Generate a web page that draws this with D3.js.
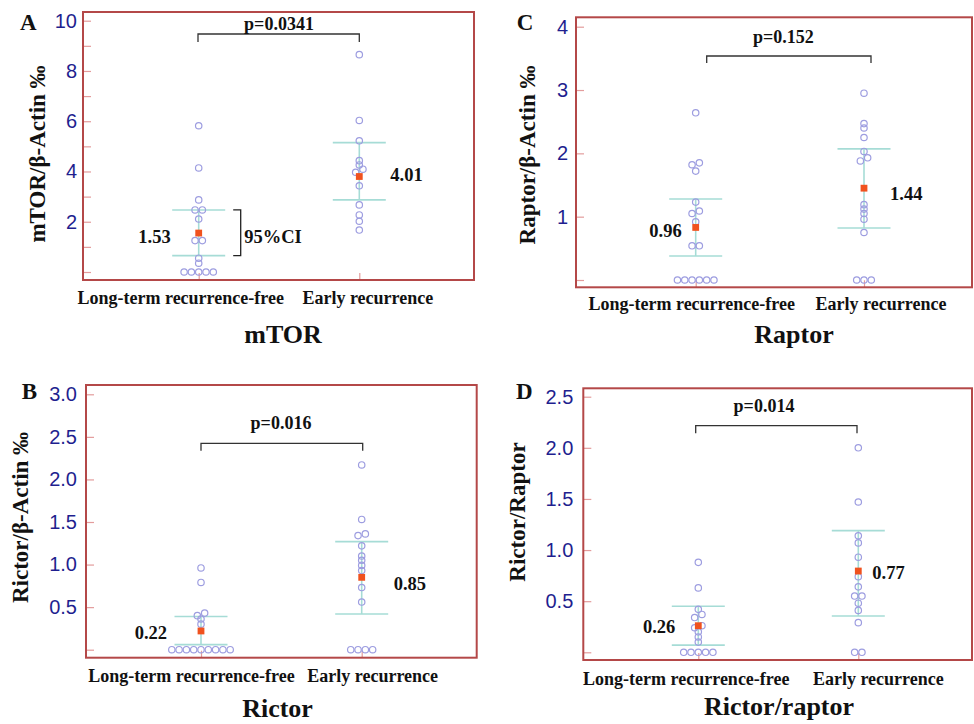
<!DOCTYPE html>
<html>
<head>
<meta charset="utf-8">
<script src="https://cdn.jsdelivr.net/npm/d3@7"></script>
<style>
  body { margin: 0; background: #fff; }
  svg { display: block; }
  .serif { font-family: "Liberation Serif", "Times New Roman", serif; font-weight: bold; fill: #111; }
</style>
</head>
<body>
<svg id="fig" width="974" height="724"></svg>
<script>
// ---- data ----
const groups = ["Long-term recurrence-free", "Early recurrence"];

// A  mTOR
const mtorFree  = [5.82, 4.14, 2.87, 2.47, 2.47, 2.11, 1.25, 1.25, 0.55, 0.35, 0, 0, 0, 0, 0];
const mtorEarly = [8.65, 6.03, 5.22, 4.43, 4.26, 4.09, 3.97, 3.43, 2.67, 2.27, 2.02, 1.67];
const mtorMean = [1.55, 3.80];
const mtorMeanText = ["1.53", "4.01"];
const mtorCI = [[0.65, 2.47], [2.87, 5.15]];
const mtorTicks = [0, 1, 2, 3, 4, 5, 6, 7, 8, 9, 10];
const mtorTickLabels = ["", "", "2", "", "4", "", "6", "", "8", "", "10"];

// B  Rictor
const rictorFree  = [0.96, 0.79, 0.43, 0.40, 0.36, 0.30, 0, 0, 0, 0, 0, 0, 0, 0, 0];
const rictorEarly = [2.17, 1.53, 1.36, 1.34, 1.22, 1.10, 1.05, 0.99, 0.93, 0.73, 0.56, 0, 0, 0, 0];
const rictorMean = [0.22, 0.85];
const rictorMeanText = ["0.22", "0.85"];
const rictorCI = [[0.06, 0.39], [0.42, 1.27]];
const rictorTicks = [0, 0.5, 1, 1.5, 2, 2.5, 3];
const rictorTickLabels = ["", "0.5", "1.0", "1.5", "2.0", "2.5", "3.0"];

// C  Raptor
const raptorFree  = [2.64, 1.85, 1.82, 1.72, 1.23, 1.09, 1.05, 0.92, 0.54, 0.54, 0, 0, 0, 0, 0, 0];
const raptorEarly = [2.95, 2.47, 2.40, 2.25, 2.03, 1.93, 1.88, 1.19, 1.12, 1.05, 0.96, 0.75, 0, 0, 0];
const raptorMean = [0.83, 1.45];
const raptorMeanText = ["0.96", "1.44"];
const raptorCI = [[0.38, 1.28], [0.82, 2.07]];
const raptorTicks = [0, 1, 2, 3, 4];
const raptorTickLabels = ["", "1", "2", "3", "4"];

// D  Rictor/Raptor
const ratioFree  = [0.88, 0.63, 0.42, 0.37, 0.34, 0.26, 0.24, 0.20, 0.15, 0.10, 0, 0, 0, 0, 0];
const ratioEarly = [2.00, 1.47, 1.14, 1.07, 0.93, 0.74, 0.64, 0.55, 0.55, 0.48, 0.41, 0.29, 0, 0];
const ratioMean = [0.26, 0.795];
const ratioMeanText = ["0.26", "0.77"];
const ratioCI = [[0.07, 0.45], [0.355, 1.19]];
const ratioTicks = [0, 0.5, 1, 1.5, 2, 2.5];
const ratioTickLabels = ["", "0.5", "1.0", "1.5", "2.0", "2.5"];

const pValues = ["p=0.0341", "p=0.016", "p=0.152", "p=0.014"];

// ---- panel layout ----
const panels = [
  { letter: "A", free: mtorFree, early: mtorEarly, mean: mtorMean, meanText: mtorMeanText, ci: mtorCI,
    ticks: mtorTicks, tickLabels: mtorTickLabels, p: pValues[0], title: "mTOR", yTitle: "mTOR/β-Actin ‰",
    frame: [83, 474, 12, 280], yRange: [272, 20.7], gx: [198.7, 359.3], tickPad: 6,
    letterPos: [20, 30], bracket: { x: [198, 359.3], y: 34, drop: 8 }, pPos: [279, 30],
    cat: { dx: [-18, 8.5], y: 304 }, titlePos: [283, 343], yTitlePos: [45, 154],
    meanLab: { dx: [-28, 31], dy: [3.7, -1.7] }, ciNote: true },
  { letter: "C", free: raptorFree, early: raptorEarly, mean: raptorMean, meanText: raptorMeanText, ci: raptorCI,
    ticks: raptorTicks, tickLabels: raptorTickLabels, p: pValues[2], title: "Raptor", yTitle: "Raptor/β-Actin ‰",
    frame: [576, 972, 17.3, 287.3], yRange: [280, 26.7], gx: [695.7, 864], tickPad: 8,
    letterPos: [516.7, 30], bracket: { x: [706.7, 871], y: 56, drop: 7 }, pPos: [783.3, 42.7],
    cat: { dx: [-4, 17], y: 310 }, titlePos: [794, 343], yTitlePos: [535, 155],
    meanLab: { dx: [-14, 26], dy: [2.7, 5] } },
  { letter: "B", free: rictorFree, early: rictorEarly, mean: rictorMean, meanText: rictorMeanText, ci: rictorCI,
    ticks: rictorTicks, tickLabels: rictorTickLabels, p: pValues[1], title: "Rictor", yTitle: "Rictor/β-Actin ‰",
    frame: [86, 476.7, 385, 657.7], yRange: [649.7, 394.3], gx: [201, 361.7], tickPad: 9,
    letterPos: [21.7, 399.3], bracket: { x: [201, 362.7], y: 443.3, drop: 7.4 }, pPos: [281, 429.3],
    cat: { dx: [-9.5, 11], y: 681.7 }, titlePos: [277.5, 717], yTitlePos: [28.3, 517.5],
    meanLab: { dx: [-34, 32], dy: [1.7, 6] } },
  { letter: "D", free: ratioFree, early: ratioEarly, mean: ratioMean, meanText: ratioMeanText, ci: ratioCI,
    ticks: ratioTicks, tickLabels: ratioTickLabels, p: pValues[3], title: "Rictor/raptor", yTitle: "Rictor/Raptor",
    frame: [583.3, 972, 388.3, 660], yRange: [652.3, 396.7], gx: [698.3, 858.3], tickPad: 10,
    letterPos: [516, 399.3], bracket: { x: [695.7, 857], y: 425.7, drop: 7.6 }, pPos: [764, 411.7],
    cat: { dx: [-12, 20], y: 685 }, titlePos: [779, 715], yTitlePos: [525, 512],
    meanLab: { dx: [-23, 14], dy: [1, 2] } }
];

const STEP = 7.3;          // horizontal spacing of dots
const CAP = 26.5;          // half width of CI caps

// simple dot-plot layout: near-equal values share a row, others dodge sideways
function swarm(values, y) {
  const pts = values.map(v => ({ v: v, py: y(v) })).sort((a, b) => b.v - a.v);
  const rows = [];
  pts.forEach(p => {
    const r = rows[rows.length - 1];
    if (r && Math.abs(p.py - r[0].py) <= 3.5) r.push(p); else rows.push([p]);
  });
  const placed = [];
  rows.forEach(r => {
    if (r.length > 1) {
      r.sort((a, b) => a.v - b.v);
      r.forEach((p, i) => { p.dx = (i - (r.length - 1) / 2) * STEP; placed.push(p); });
    } else {
      const p = r[0];
      for (const k of [0, 1, -1, 2, -2, 3, -3]) {
        const dx = k * STEP;
        if (!placed.some(q => Math.hypot(q.dx - dx, q.py - p.py) < 4)) { p.dx = dx; break; }
      }
      placed.push(p);
    }
  });
  return placed;
}

const svg = d3.select("#fig");

panels.forEach(P => {
  const g = svg.append("g");
  const [x0, x1, y0, y1] = P.frame;
  const y = d3.scaleLinear().domain([0, d3.max(P.ticks)]).range(P.yRange);
  const x = d3.scalePoint().domain(groups).range(P.gx);

  // y axis: ticks point inward, labels outside
  const ya = g.append("g").attr("transform", `translate(${x0},0)`)
    .call(d3.axisLeft(y).tickValues(P.ticks).tickSize(-8).tickPadding(P.tickPad)
      .tickFormat((d, i) => P.tickLabels[i]));
  ya.select(".domain").remove();
  ya.selectAll(".tick line").attr("stroke", "#e39c9c").attr("stroke-width", 1.2);
  ya.selectAll(".tick text").attr("fill", "#1f1f8f")
    .style("font-family", '"Liberation Sans", Arial, sans-serif').style("font-size", "20px");

  // x axis ticks (no labels)
  const xa = g.append("g").attr("transform", `translate(0,${y1})`)
    .call(d3.axisBottom(x).tickSize(-7).tickFormat(""));
  xa.select(".domain").remove();
  xa.selectAll(".tick line").attr("stroke", "#e39c9c").attr("stroke-width", 1.2);

  // frame
  g.append("rect").attr("x", x0).attr("y", y0).attr("width", x1 - x0).attr("height", y1 - y0)
    .attr("fill", "none").attr("stroke", "#b44848").attr("stroke-width", 2);

  // CI lines
  const ciG = g.append("g").attr("stroke", "#a6dcd6").attr("stroke-width", 1.6);
  groups.forEach((grp, i) => {
    const cx = x(grp);
    const lo = y(P.ci[i][0]), hi = y(P.ci[i][1]);
    ciG.append("line").attr("x1", cx).attr("x2", cx).attr("y1", hi).attr("y2", lo);
    ciG.append("line").attr("x1", cx - CAP).attr("x2", cx + CAP).attr("y1", hi).attr("y2", hi);
    ciG.append("line").attr("x1", cx - CAP).attr("x2", cx + CAP).attr("y1", lo).attr("y2", lo);
  });

  // dots
  [P.free, P.early].forEach((vals, i) => {
    const cx = x(groups[i]);
    g.append("g").selectAll("circle").data(swarm(vals, y)).join("circle")
      .attr("cx", d => cx + d.dx).attr("cy", d => d.py).attr("r", 3.2)
      .attr("fill", "none").attr("stroke", "#9d9de0").attr("stroke-width", 1.2);
  });

  // means
  g.append("g").selectAll("rect").data(P.mean).join("rect")
    .attr("x", (d, i) => x(groups[i]) - 3.4).attr("y", d => y(d) - 3.4)
    .attr("width", 6.8).attr("height", 6.8).attr("fill", "#f0521e");

  g.selectAll(".meanlab").data(P.meanText).join("text").attr("class", "serif")
    .attr("x", (d, i) => x(groups[i]) + P.meanLab.dx[i])
    .attr("y", (d, i) => y(P.mean[i]) + P.meanLab.dy[i])
    .attr("dy", "0.35em").attr("text-anchor", (d, i) => i === 0 ? "end" : "start")
    .style("font-size", "18.5px").text(d => d);

  // 95%CI note
  if (P.ciNote) {
    const bx = x(groups[0]) + 42, hi = y(P.ci[0][1]), lo = y(P.ci[0][0]);
    g.append("path").attr("d", `M${bx - 7.5},${hi}H${bx}V${lo}H${bx - 7.5}`)
      .attr("fill", "none").attr("stroke", "#222").attr("stroke-width", 1.3);
    g.append("text").attr("class", "serif").attr("x", bx + 3.5).attr("y", (hi + lo) / 2 + 3.7)
      .attr("dy", "0.35em").style("font-size", "18.5px").text("95%CI");
  }

  // significance bracket
  const b = P.bracket;
  g.append("path").attr("d", `M${b.x[0]},${b.y + b.drop}V${b.y}H${b.x[1]}V${b.y + b.drop}`)
    .attr("fill", "none").attr("stroke", "#333").attr("stroke-width", 1.3);
  g.append("text").attr("class", "serif").attr("x", P.pPos[0]).attr("y", P.pPos[1])
    .attr("text-anchor", "middle").style("font-size", "18px").text(P.p);

  // category labels
  groups.forEach((grp, i) => {
    g.append("text").attr("class", "serif").attr("x", x(grp) + P.cat.dx[i]).attr("y", P.cat.y)
      .attr("text-anchor", "middle").style("font-size", "18px").text(grp);
  });

  // titles
  g.append("text").attr("class", "serif").attr("x", P.titlePos[0]).attr("y", P.titlePos[1])
    .attr("text-anchor", "middle").style("font-size", "26px").text(P.title);
  g.append("text").attr("class", "serif")
    .attr("transform", `translate(${P.yTitlePos[0]},${P.yTitlePos[1]}) rotate(-90)`)
    .attr("text-anchor", "middle").style("font-size", "23px").text(P.yTitle);
  g.append("text").attr("class", "serif").attr("x", P.letterPos[0]).attr("y", P.letterPos[1])
    .style("font-size", "23px").text(P.letter);
});
</script>
</body>
</html>
